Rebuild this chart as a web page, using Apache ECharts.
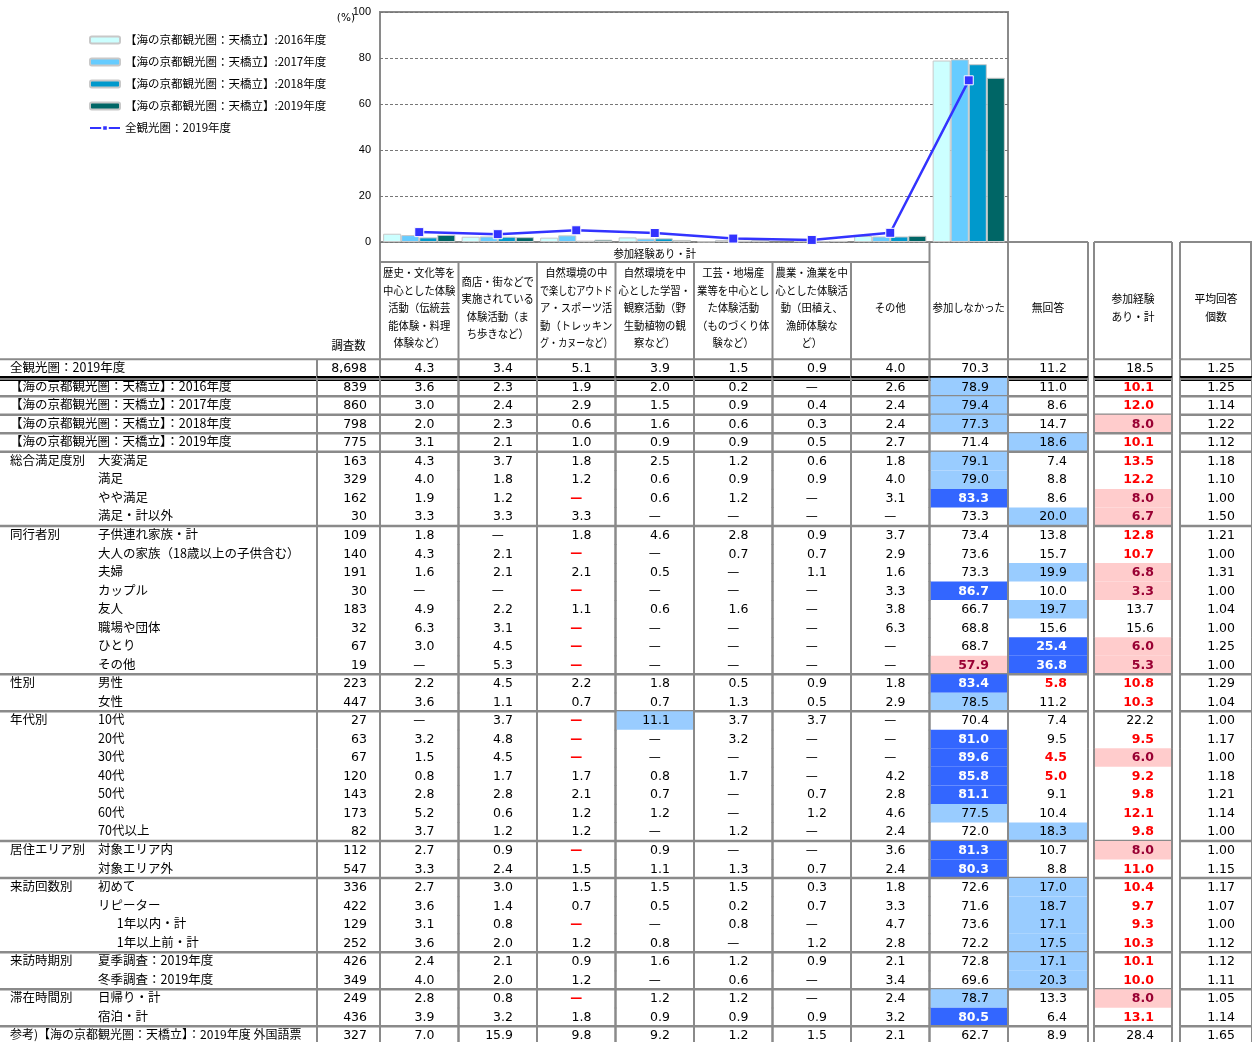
<!DOCTYPE html>
<html><head><meta charset="utf-8">
<script src="https://cdn.jsdelivr.net/npm/echarts@6/dist/echarts.min.js"></script>
<style>html,body{margin:0;padding:0;background:#fff}#c{width:1252px;height:1042px}</style>
</head><body><div id="c"></div>
<script>
// ---------------- DATA ----------------
const headerLines = [
  ['歴史・文化等を','中心とした体験','活動（伝統芸','能体験・料理','体験など）'],
  ['商店・街などで','実施されている','体験活動（ま','ち歩きなど）'],
  ['自然環境の中','で楽しむアウトド','ア・スポーツ活','動（トレッキン','グ・カヌーなど）'],
  ['自然環境を中','心とした学習・','観察活動（野','生動植物の観','察など）'],
  ['工芸・地場産','業等を中心とし','た体験活動','（ものづくり体','験など）'],
  ['農業・漁業を中','心とした体験活','動（田植え、','漁師体験な','ど）'],
  ['その他'],
  ['参加しなかった']
];
const groupHeader = '参加経験あり・計';
const headerN = '調査数';
const headerNoAnswer = ['無回答'];
const headerJoined = ['参加経験','あり・計'];
const headerAvg = ['平均回答','個数'];

const barSeriesNames = [
  '【海の京都観光圏：天橋立】:2016年度',
  '【海の京都観光圏：天橋立】:2017年度',
  '【海の京都観光圏：天橋立】:2018年度',
  '【海の京都観光圏：天橋立】:2019年度'
];
const lineSeriesName = '全観光圏：2019年度';
const yTicks = [0, 20, 40, 60, 80, 100];

const groupLabels = [
  '全観光圏：2019年度',
  '【海の京都観光圏：天橋立】：2016年度',
  '【海の京都観光圏：天橋立】：2017年度',
  '【海の京都観光圏：天橋立】：2018年度',
  '【海の京都観光圏：天橋立】：2019年度',
  '総合満足度別','','','',
  '同行者別','','','','','','','',
  '性別','',
  '年代別','','','','','','',
  '居住エリア別','',
  '来訪回数別','','','',
  '来訪時期別','',
  '滞在時間別','',
  '参考)【海の京都観光圏：天橋立】：2019年度 外国語票'
];
const subLabels = [
  '','','','','',
  '大変満足','満足','やや満足','満足・計以外',
  '子供連れ家族・計','大人の家族（18歳以上の子供含む）','夫婦','カップル','友人','職場や団体','ひとり','その他',
  '男性','女性',
  '10代','20代','30代','40代','50代','60代','70代以上',
  '対象エリア内','対象エリア外',
  '初めて','リピーター','\u3000\u20021年以内・計','\u3000\u20021年以上前・計',
  '夏季調査：2019年度','冬季調査：2019年度',
  '日帰り・計','宿泊・計',
  ''
];

const surveyN = [8698,839,860,798,775,163,329,162,30,109,140,191,30,183,32,67,19,223,447,27,63,67,120,143,173,82,112,547,336,422,129,252,426,349,249,436,327];
const colHistory = [4.3,3.6,3.0,2.0,3.1,4.3,4.0,1.9,3.3,1.8,4.3,1.6,null,4.9,6.3,3.0,null,2.2,3.6,null,3.2,1.5,0.8,2.8,5.2,3.7,2.7,3.3,2.7,3.6,3.1,3.6,2.4,4.0,2.8,3.9,7.0];
const colTown = [3.4,2.3,2.4,2.3,2.1,3.7,1.8,1.2,3.3,null,2.1,2.1,null,2.2,3.1,4.5,5.3,4.5,1.1,3.7,4.8,4.5,1.7,2.8,0.6,1.2,0.9,2.4,3.0,1.4,0.8,2.0,2.1,2.0,0.8,3.2,15.9];
const colOutdoor = [5.1,1.9,2.9,0.6,1.0,1.8,1.2,null,3.3,1.8,null,2.1,null,1.1,null,null,null,2.2,0.7,null,null,null,1.7,2.1,1.2,1.2,null,1.5,1.5,0.7,null,1.2,0.9,1.2,null,1.8,9.8];
const colStudy = [3.9,2.0,1.5,1.6,0.9,2.5,0.6,0.6,null,4.6,null,0.5,null,0.6,null,null,null,1.8,0.7,11.1,null,null,0.8,0.7,1.2,null,0.9,1.1,1.5,0.5,null,0.8,1.6,null,1.2,0.9,9.2];
const colCraft = [1.5,0.2,0.9,0.6,0.9,1.2,0.9,1.2,null,2.8,0.7,null,null,1.6,null,null,null,0.5,1.3,3.7,3.2,null,1.7,null,null,1.2,null,1.3,1.5,0.2,0.8,null,1.2,0.6,1.2,0.9,1.2];
const colFarm = [0.9,null,0.4,0.3,0.5,0.6,0.9,null,null,0.9,0.7,1.1,null,null,null,null,null,0.9,0.5,3.7,null,null,null,0.7,1.2,null,null,0.7,0.3,0.7,null,1.2,0.9,null,null,0.9,1.5];
const colOther = [4.0,2.6,2.4,2.4,2.7,1.8,4.0,3.1,null,3.7,2.9,1.6,3.3,3.8,6.3,null,null,1.8,2.9,null,null,null,4.2,2.8,4.6,2.4,3.6,2.4,1.8,3.3,4.7,2.8,2.1,3.4,2.4,3.2,2.1];
const colNotJoined = [70.3,78.9,79.4,77.3,71.4,79.1,79.0,83.3,73.3,73.4,73.6,73.3,86.7,66.7,68.8,68.7,57.9,83.4,78.5,70.4,81.0,89.6,85.8,81.1,77.5,72.0,81.3,80.3,72.6,71.6,73.6,72.2,72.8,69.6,78.7,80.5,62.7];
const colNoAnswer = [11.2,11.0,8.6,14.7,18.6,7.4,8.8,8.6,20.0,13.8,15.7,19.9,10.0,19.7,15.6,25.4,36.8,5.8,11.2,7.4,9.5,4.5,5.0,9.1,10.4,18.3,10.7,8.8,17.0,18.7,17.1,17.5,17.1,20.3,13.3,6.4,8.9];
const colJoinedTotal = [18.5,10.1,12.0,8.0,10.1,13.5,12.2,8.0,6.7,12.8,10.7,6.8,3.3,13.7,15.6,6.0,5.3,10.8,10.3,22.2,9.5,6.0,9.2,9.8,12.1,9.8,8.0,11.0,10.4,9.7,9.3,10.3,10.1,10.0,8.0,13.1,28.4];
const colAvgCount = [1.25,1.25,1.14,1.22,1.12,1.18,1.10,1.00,1.50,1.21,1.00,1.31,1.00,1.04,1.00,1.25,1.00,1.29,1.04,1.00,1.17,1.00,1.18,1.21,1.14,1.00,1.00,1.15,1.17,1.07,1.00,1.12,1.12,1.11,1.05,1.14,1.65];

// significance marks, one char per row: b=light blue, B=blue, P=pink, r=red
const marksOutdoor    = '.......r..r.r.rrr..rrr....r...r...r..';
const marksStudy      = '...................b.................';
const marksNotJoined  = '.bbb.bbB....B...PBb.BBBBb.BB......bB.';
const marksNoAnswer   = '....b...b..b.b.BBr...rr..b..bbbbbb...';
const marksJoined     = '.rrPrrrPPrrPP..PPrr.rPrrrrPrrrrrrrPr.';

// ---------------- BUILD ----------------
const JP = '"Noto Sans CJK JP", "Noto Sans CJK SC", sans-serif';
const NUMF = '"DejaVu Sans", sans-serif';
const GRAY = '#8a8a8a';
const N_ROWS = surveyN.length;
const rowIds = surveyN.map((_, i) => String(i));

const mainCols = [colHistory, colTown, colOutdoor, colStudy, colCraft, colFarm, colOther, colNotJoined];
const mainMarks = ['', '', marksOutdoor, marksStudy, '', '', '', marksNotJoined];
const chartCategories = headerLines.map(l => l.join(''));

const MARK_STYLE = {
  '.': { bg: null, color: '#000', weight: 'normal' },
  'b': { bg: '#99CCFF', color: '#000', weight: 'normal' },
  'B': { bg: '#3366FF', color: '#FFFFFF', weight: 'bold' },
  'P': { bg: '#FFCCCC', color: '#990033', weight: 'bold' },
  'r': { bg: null, color: '#FF0000', weight: 'bold' }
};

const L = { chartLeft: 380, chartTop: 12, chartWidth: 628, chartHeight: 230, tableTop: 359.2, rowH: 18.53, headTop: 242, headSplit: 262, headMid: 307.5 };
const tableH = L.rowH * N_ROWS;

function fmt1(v) { return v == null ? '—' : v.toFixed(1); }
function fmt2(v) { return v == null ? '—' : v.toFixed(2); }
function fmtN(v) { return v.toLocaleString('en-US'); }

const blocks = [
  { key: 'label', left: 0, width: 317, cols: [''] },
  { key: 'n', left: 317, width: 63, cols: [''] },
  { key: 'main', left: L.chartLeft, width: L.chartWidth, cols: chartCategories },
  { key: 'na', left: 1008, width: 80, cols: [''] },
  { key: 'exp', left: 1094, width: 78, cols: [''] },
  { key: 'avg', left: 1180, width: 72, cols: [''] }
];

blocks.forEach(b => {
  b.data = []; b.cells = [];
  b.cols.forEach((_, ci) => {
    for (let ri = 0; ri < N_ROWS; ri++) {
      b.data.push([ci, ri]);
      let cell;
      if (b.key === 'label') cell = { g: groupLabels[ri], s: subLabels[ri] };
      else if (b.key === 'n') cell = { text: fmtN(surveyN[ri]), mark: '.', pad: 13 };
      else if (b.key === 'main') cell = { text: fmt1(mainCols[ci][ri]), mark: (mainMarks[ci][ri] || '.'), pad: ci === 7 ? 19 : 24 };
      else if (b.key === 'na') cell = { text: fmt1(colNoAnswer[ri]), mark: marksNoAnswer[ri] || '.', pad: 21 };
      else if (b.key === 'exp') cell = { text: fmt1(colJoinedTotal[ri]), mark: marksJoined[ri] || '.', pad: 18 };
      else cell = { text: fmt2(colAvgCount[ri]), mark: '.', pad: 17 };
      b.cells.push(cell);
    }
  });
});

function ruleAfter(ri) {
  if (ri === 0) return 'd';
  if (ri + 1 < N_ROWS && groupLabels[ri + 1]) return 'g';
  return '.';
}

function hline(x1, x2, y, color, w) {
  return { type: 'line', silent: true, shape: { x1: x1, y1: y, x2: x2, y2: y }, style: { stroke: color, lineWidth: w } };
}
function vline(x, y1, y2, color, w) {
  return { type: 'line', silent: true, shape: { x1: x, y1: y1, x2: x, y2: y2 }, style: { stroke: color, lineWidth: w } };
}

function makeRenderer(block) {
  return function (params, api) {
    const ci = api.value(0), ri = api.value(1);
    const c = api.coord([ci, ri]);
    const s = api.size([1, 1]);
    const w = s[0], h = s[1];
    const x0 = c[0] - w / 2, x1 = c[0] + w / 2, y0 = c[1] - h / 2, y1 = c[1] + h / 2;
    const cell = block.cells[params.dataIndex];
    const ch = [];
    if (block.key === 'label') {
      if (cell.g) ch.push({ type: 'text', silent: true, style: { text: cell.g, x: x0 + 10, y: c[1] - 1, align: 'left', verticalAlign: 'middle', fill: '#000', fontSize: (ri === N_ROWS - 1 ? 12 : 12.5), fontFamily: JP } });
      if (cell.s) ch.push({ type: 'text', silent: true, style: { text: cell.s, x: x0 + 98, y: c[1] - 1, align: 'left', verticalAlign: 'middle', fill: '#000', fontSize: 12.5, fontFamily: JP } });
    } else {
      const st = MARK_STYLE[cell.mark] || MARK_STYLE['.'];
      if (st.bg) ch.push({ type: 'rect', silent: true, shape: { x: x0 + 1, y: y0, width: w - 2, height: h }, style: { fill: st.bg } });
      if (cell.text === '—') {
        ch.push({ type: 'text', silent: true, style: { text: '—', x: c[0], y: c[1] + 0.5, align: 'center', verticalAlign: 'middle', fill: st.color, fontSize: 12, fontFamily: NUMF, fontWeight: st.weight } });
      } else {
        ch.push({ type: 'text', silent: true, style: { text: cell.text, x: x1 - cell.pad, y: c[1] + 0.5, align: 'right', verticalAlign: 'middle', fill: st.color, fontSize: 12.5, fontFamily: NUMF, fontWeight: st.weight } });
      }
      ch.push(vline(x0, y0, y1 + 0.5, GRAY, 2));
      ch.push(vline(x1, y0, y1 + 0.5, GRAY, 2));
    }
    if (ri === 0) ch.push(hline(x0, x1, y0, GRAY, 2));
    const r = ruleAfter(ri);
    if (r === 'g') ch.push(hline(x0, x1, y1, GRAY, 2.5));
    if (r === 'd') { ch.push(hline(x0, x1, y1 - 0.5, '#000', 2.5)); ch.push(hline(x0, x1, y1 + 2.5, '#000', 1.5)); }
    return { type: 'group', children: ch };
  };
}

// header graphic
function estWidth(t, fs) { let w = 0; for (const ch of t) w += (ch.charCodeAt(0) < 0x100 ? 0.55 : 1) * fs; return w; }
function headerText(lines, cx, cy, lineH, maxW, fs) {
  const out = [];
  const n = lines.length;
  lines.forEach((t, i) => {
    const sc = Math.min(0.94, maxW / estWidth(t, fs));
    out.push({ type: 'text', silent: true, x: cx, y: cy + (i - (n - 1) / 2) * lineH, scaleX: sc,
      style: { text: t, x: 0, y: 0, align: 'center', verticalAlign: 'middle', fill: '#000', fontSize: fs, fontFamily: JP } });
  });
  return out;
}
const colW = L.chartWidth / chartCategories.length;
const gEls = [];
gEls.push(hline(L.chartLeft, L.chartLeft + colW * 7, L.headSplit, GRAY, 2));
gEls.push(...headerText([groupHeader], L.chartLeft + colW * 3.5, (L.headTop + L.headSplit) / 2 + 1.5, 17.5, 200, 11));
for (let i = 0; i <= 8; i++) {
  const x = L.chartLeft + colW * i;
  const top = (i === 0 || i >= 7) ? L.headTop : L.headSplit;
  gEls.push(vline(x, top, L.tableTop, GRAY, 2));
  if (i < 8) gEls.push(...headerText(headerLines[i], x + colW / 2, L.headMid + 0.5, 17.5, colW - 6, 11));
}
blocks.filter(b => ['na', 'exp', 'avg'].includes(b.key)).forEach(b => {
  gEls.push(hline(b.left, b.left + b.width, L.headTop, GRAY, 2));
  gEls.push(vline(b.left, L.headTop, L.tableTop, GRAY, 2));
  gEls.push(vline(b.left + b.width - (b.key === 'avg' ? 1 : 0), L.headTop, L.tableTop, GRAY, 2));
  const lines = b.key === 'na' ? headerNoAnswer : (b.key === 'exp' ? headerJoined : headerAvg);
  gEls.push(...headerText(lines, b.left + b.width / 2, L.headMid + 0.5, 18, b.width - 8, 11.5));
});
const nb = blocks[1];
gEls.push({ type: 'text', silent: true, x: nb.left + nb.width / 2, y: L.tableTop - 14, scaleX: 0.95,
  style: { text: headerN, x: 0, y: 0, align: 'center', verticalAlign: 'middle', fill: '#000', fontSize: 12, fontFamily: JP } });
gEls.push({ type: 'text', silent: true, style: { text: '(%)', x: L.chartLeft - 25, y: L.chartTop + 6, align: 'right', verticalAlign: 'middle', fill: '#000', fontSize: 10.5, fontFamily: NUMF } });

// ---------------- OPTION ----------------
const grids = [{ left: L.chartLeft, top: L.chartTop, width: L.chartWidth, height: L.chartHeight, show: true, borderColor: GRAY, borderWidth: 2, outerBoundsMode: 'none' }];
const xAxes = [{ type: 'category', gridIndex: 0, data: chartCategories, axisLabel: { show: false }, axisTick: { show: false }, axisLine: { show: false } }];
const yAxes = [{ type: 'value', gridIndex: 0, min: yTicks[0], max: yTicks[yTicks.length - 1], interval: yTicks[1] - yTicks[0],
  axisLine: { show: false }, axisTick: { show: false },
  axisLabel: { color: '#000', fontSize: 11, fontFamily: '"Liberation Sans", Arial, sans-serif', margin: 9 },
  splitLine: { show: true, lineStyle: { color: '#777', type: [3, 2], width: 1 } } }];

const barColors = ['#CCFFFF', '#66CCFF', '#0099CC', '#006666'];
const series = [];
barSeriesNames.forEach((name, k) => {
  series.push({ type: 'bar', name: name, xAxisIndex: 0, yAxisIndex: 0,
    data: mainCols.map(col => col[k + 1]),
    barGap: '0%', barCategoryGap: '8%',
    itemStyle: { color: barColors[k], borderColor: '#c8c8c8', borderWidth: 1 } });
});
series.push({ type: 'line', name: lineSeriesName, xAxisIndex: 0, yAxisIndex: 0,
  data: mainCols.map(col => col[0]), symbol: 'rect', symbolSize: 9, z: 5,
  lineStyle: { color: '#3333FF', width: 2.5 },
  itemStyle: { color: '#3333FF', borderColor: '#ffffff', borderWidth: 1 } });

blocks.forEach((b, i) => {
  const gi = i + 1;
  grids.push({ left: b.left, top: L.tableTop, width: b.width, height: tableH, show: false, outerBoundsMode: 'none' });
  xAxes.push({ type: 'category', gridIndex: gi, data: b.cols.map((c, j) => c || ('c' + j)), show: false });
  yAxes.push({ type: 'category', gridIndex: gi, data: rowIds, inverse: true, show: false });
  series.push({ type: 'custom', name: 'table-' + b.key, xAxisIndex: gi, yAxisIndex: gi, data: b.data,
    renderItem: makeRenderer(b), silent: true, clip: false, z: 3 });
});

const option = {
  animation: false,
  backgroundColor: '#ffffff',
  grid: grids, xAxis: xAxes, yAxis: yAxes, series: series,
  legend: { left: 84, top: 28, orient: 'vertical', itemWidth: 30, itemHeight: 7, itemGap: 8,
    textStyle: { fontFamily: JP, fontSize: 11.5, color: '#000', lineHeight: 14 },
    data: barSeriesNames.concat([lineSeriesName]), selectedMode: false },
  graphic: { elements: gEls },
  tooltip: { show: false }
};
const chart = echarts.init(document.getElementById('c'), null, { renderer: 'canvas' });
chart.setOption(option);
</script></body></html>
